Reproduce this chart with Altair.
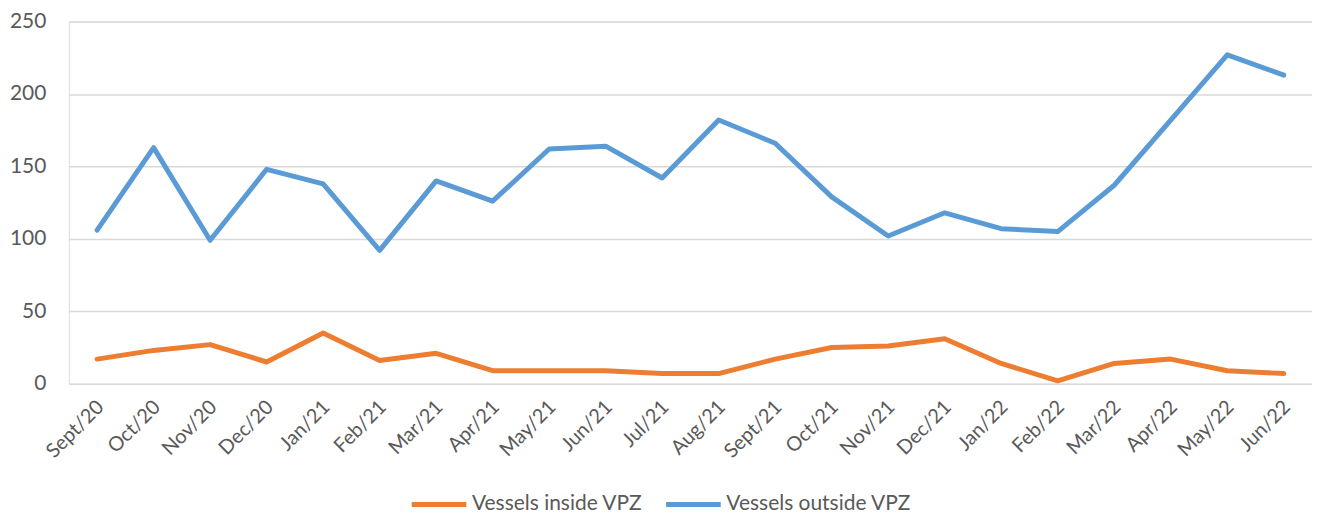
import altair as alt
import pandas as pd

months = ["Sept/20", "Oct/20", "Nov/20", "Dec/20", "Jan/21", "Feb/21", "Mar/21", "Apr/21",
          "May/21", "Jun/21", "Jul/21", "Aug/21", "Sept/21", "Oct/21", "Nov/21", "Dec/21",
          "Jan/22", "Feb/22", "Mar/22", "Apr/22", "May/22", "Jun/22"]
inside = [17, 23, 27, 15, 35, 16, 21, 9, 9, 9, 7, 7, 17, 25, 26, 31, 14, 2, 14, 17, 9, 7]
outside = [106, 163, 99, 148, 138, 92, 140, 126, 162, 164, 142, 182, 166, 129, 102, 118,
           107, 105, 137, 182, 227, 213]
series = ["Vessels inside VPZ", "Vessels outside VPZ"]
colors = ["#ED7D31", "#5B9BD5"]

rows = []
for i, m in enumerate(months):
    rows.append({"month": m, "series": series[0], "value": inside[i], "order": i})
    rows.append({"month": m, "series": series[1], "value": outside[i], "order": i})
df = pd.DataFrame(rows)

FONT = "Lato"
GREY = "#595959"

chart = alt.Chart(df).mark_line(strokeWidth=5, strokeCap="round", strokeJoin="round").encode(
    x=alt.X("month:N", sort=months, title=None,
            scale=alt.Scale(type="point", padding=0.5),
            axis=alt.Axis(labelAngle=-45, labelAlign="right", labelBaseline="middle",
                          labelFontSize=20, labelColor=GREY, labelFont=FONT,
                          labelPadding=20, labelOffset=3, ticks=False, domain=False,
                          grid=False)),
    y=alt.Y("value:Q", title=None,
            scale=alt.Scale(domain=[0, 250], nice=False),
            axis=alt.Axis(values=[0, 50, 100, 150, 200, 250], labelFontSize=21,
                          labelColor=GREY, labelFont=FONT, labelPadding=23, ticks=False,
                          domain=False, gridColor="#D9D9D9", gridWidth=1.5)),
    color=alt.Color("series:N", scale=alt.Scale(domain=series, range=colors),
                    legend=alt.Legend(title=None, orient="none", direction="horizontal",
                                      legendX=341, legendY=454, symbolType="stroke",
                                      symbolSize=3000, symbolStrokeWidth=5,
                                      labelFontSize=21, labelColor=GREY, labelFont=FONT,
                                      columnPadding=12, labelOffset=3, labelLimit=400)),
    detail="series:N",
).properties(
    width=1246, height=363,
    autosize=alt.AutoSizeParams(type="none"),
    padding={"left": 61, "top": 13, "right": 0, "bottom": 133},
).configure_view(stroke=None).configure(background="white")

chart.save("out.html", embed_options={"renderer": "svg", "actions": False})
